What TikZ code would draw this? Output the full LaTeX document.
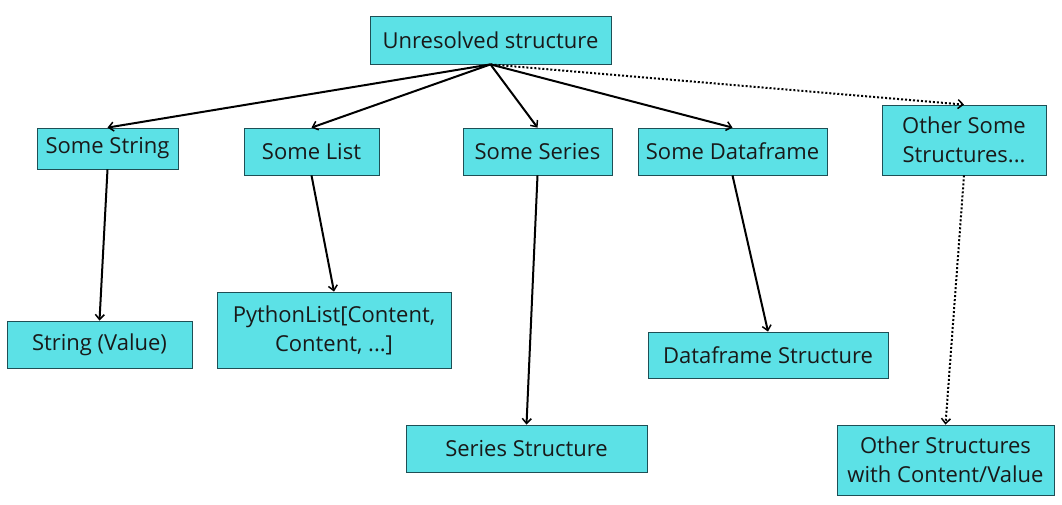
\documentclass[tikz,border=0pt]{standalone}
\usepackage{fontspec}
\setmainfont{Open Sans}
\usetikzlibrary{arrows.meta}
\definecolor{boxfill}{HTML}{5CE1E6}
\definecolor{boxline}{HTML}{1E4F55}
\begin{document}
\begin{tikzpicture}[x=1pt,y=-1pt,
  box/.style={draw=boxline,line width=0.8pt,fill=boxfill,inner sep=0pt,
    align=center,font=\fontsize{22}{29}\selectfont,text=black!90},
  link/.style={line width=2pt,-{Straight Barb[length=5pt,width=9pt,line width=1.5pt]}},
  dotlink/.style={link,dotted}]
\useasboundingbox (0,0) rectangle (1062,504);
% top node
\node[box,minimum width=241,minimum height=48] (root) at (490.5,40) {Unresolved structure};
% second row
\node[box,minimum width=141,minimum height=41] (str) at (107.5,148.5) {Some String};
\node[box,minimum width=135,minimum height=47] (lst) at (311.5,151.5) {Some List};
\node[box,minimum width=149,minimum height=47] (ser) at (537.5,151.5) {Some Series};
\node[box,minimum width=189,minimum height=47] (df) at (732.5,151.5) {Some Dataframe};
\node[box,minimum width=164,minimum height=70] (oth) at (964,140) {Other Some\\Structures...};
% leaves
\node[box,minimum width=185,minimum height=47] (strv) at (99.5,344.5) {String (Value)};
\node[box,minimum width=234,minimum height=76] (pyl) at (334,330) {PythonList[Content,\\Content, ...]};
\node[box,minimum width=241,minimum height=47] (sers) at (526.5,448.5) {Series Structure};
\node[box,minimum width=240,minimum height=46] (dfs) at (768,355) {Dataframe Structure};
\node[box,minimum width=217,minimum height=70] (oths) at (945.5,460) {Other Structures\\with Content/Value};
% connectors
\draw[link] (root.south) -- (str.north);
\draw[link] (root.south) -- (lst.north);
\draw[link] (root.south) -- (ser.north);
\draw[link] (root.south) -- (df.north);
\draw[dotlink] (root.south) -- (oth.north);
\draw[link] (str.south) -- (strv.north);
\draw[link] (lst.south) -- (pyl.north);
\draw[link] (ser.south) -- (sers.north);
\draw[link] (df.south) -- (dfs.north);
\draw[dotlink] (oth.south) -- (oths.north);
\end{tikzpicture}
\end{document}
